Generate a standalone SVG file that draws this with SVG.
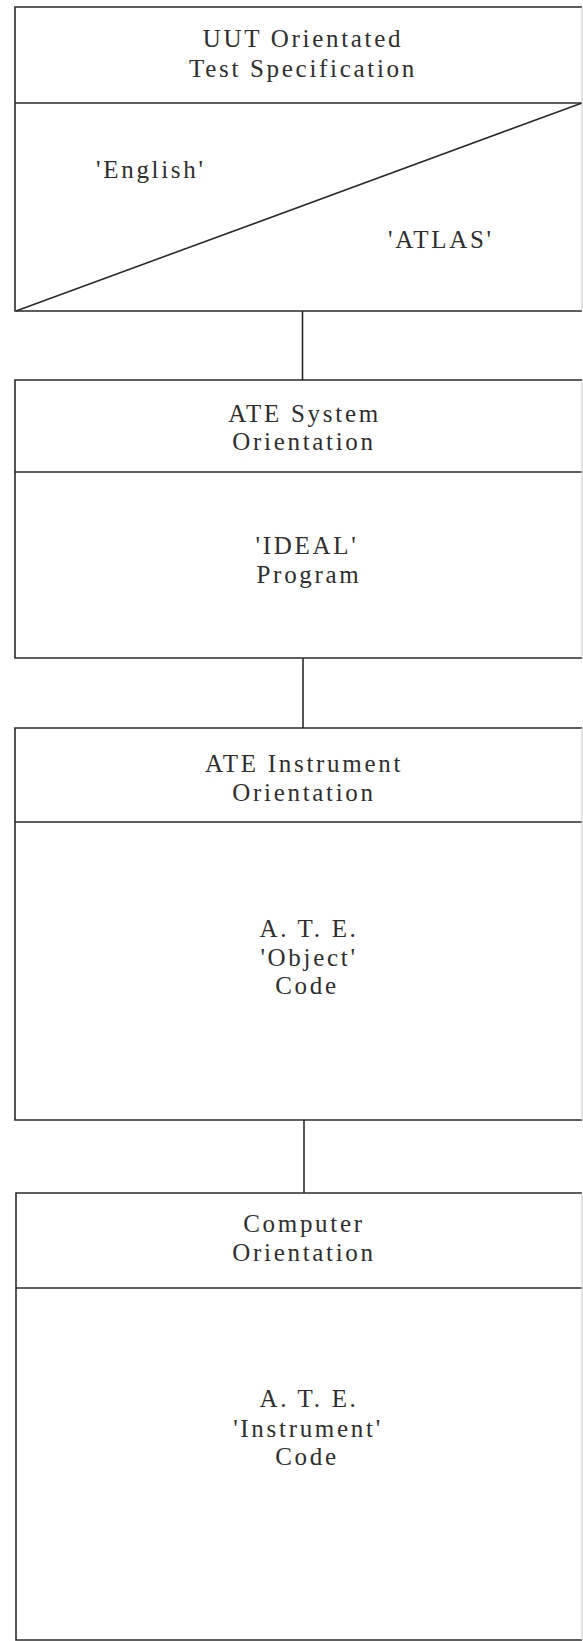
<svg xmlns="http://www.w3.org/2000/svg" width="583" height="1641" viewBox="0 0 583 1641">
<style>
.box{fill:none;stroke:#2a2a2a;stroke-width:1.6}
.edge{fill:none;stroke:#c8c8c8;stroke-width:1}
.conn{fill:none;stroke:#2a2a2a;stroke-width:1.6}
text{font-family:"Liberation Serif","Times New Roman",serif;font-size:25px;fill:#2e2e2e;letter-spacing:2.7px}
.c{text-anchor:middle}
</style>
<rect width="583" height="1641" fill="#ffffff"/>
<g id="connectors">
<line class="conn" x1="302.5" y1="311" x2="302.5" y2="380"/>
<line class="conn" x1="303" y1="658" x2="303" y2="728"/>
<line class="conn" x1="304" y1="1120" x2="304" y2="1193"/>
</g>
<g id="node-uut">
<polyline class="box" points="582,7 15,7 15,311 582,311"/>
<line class="box" x1="15" y1="103" x2="582" y2="103"/>
<line class="box" x1="16" y1="311" x2="582" y2="103"/>
<line class="edge" x1="582" y1="7" x2="582" y2="311"/>
<text class="c" x="303" y="47">UUT Orientated</text>
<text class="c" x="303" y="77">Test Specification</text>
<text x="96" y="178">'English'</text>
<text x="388" y="248">'ATLAS'</text>
</g>
<g id="node-ate-system">
<polyline class="box" points="582,380 15,380 15,658 582,658"/>
<line class="box" x1="15" y1="472" x2="582" y2="472"/>
<line class="edge" x1="582" y1="380" x2="582" y2="658"/>
<text class="c" x="304.5" y="422">ATE System</text>
<text class="c" x="304" y="450">Orientation</text>
<text class="c" x="307" y="554">'IDEAL'</text>
<text class="c" x="309" y="583">Program</text>
</g>
<g id="node-ate-instrument">
<polyline class="box" points="582,728 15,728 15,1120 582,1120"/>
<line class="box" x1="15" y1="822" x2="582" y2="822"/>
<line class="edge" x1="582" y1="728" x2="582" y2="1120"/>
<text class="c" x="304" y="772">ATE Instrument</text>
<text class="c" x="304" y="801">Orientation</text>
<text class="c" x="309" y="937">A. T. E.</text>
<text class="c" x="309" y="966">'Object'</text>
<text class="c" x="307" y="994">Code</text>
</g>
<g id="node-computer">
<polyline class="box" points="582,1193 16,1193 16,1640 582,1640"/>
<line class="box" x1="16" y1="1288" x2="582" y2="1288"/>
<line class="edge" x1="582" y1="1193" x2="582" y2="1640"/>
<text class="c" x="304" y="1232">Computer</text>
<text class="c" x="304" y="1261">Orientation</text>
<text class="c" x="309" y="1407">A. T. E.</text>
<text class="c" x="308" y="1437">'Instrument'</text>
<text class="c" x="307" y="1465">Code</text>
</g>
</svg>
